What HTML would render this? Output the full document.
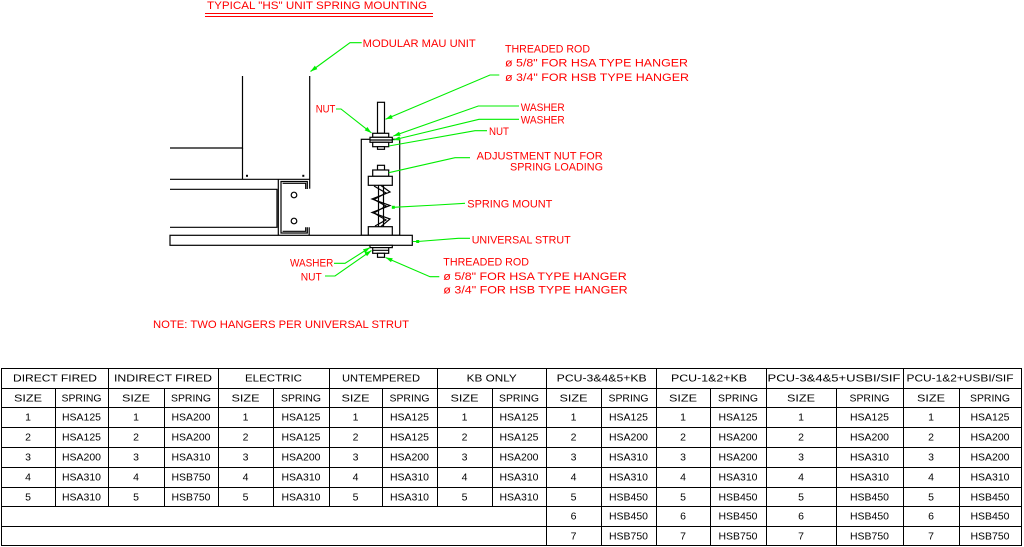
<!DOCTYPE html>
<html><head><meta charset="utf-8"><style>
html,body{margin:0;padding:0;background:#fff;}
svg{display:block;}
.r{fill:#ff0000;font-family:"Liberation Sans",sans-serif;font-size:11px;}
.t{fill:#000;font-family:"Liberation Sans",sans-serif;font-size:10.5px;text-anchor:middle;}
.k{stroke:#000;stroke-width:1.2;fill:#fff;}
.kn{stroke:#000;stroke-width:1.2;fill:none;}
.g{stroke:#00ee00;stroke-width:1.1;fill:none;}
.tl{stroke:#000;stroke-width:1;}
</style></head><body>
<svg width="1024" height="547" viewBox="0 0 1024 547" xmlns="http://www.w3.org/2000/svg">
<defs>
<marker id="ar" markerWidth="8" markerHeight="6" refX="7" refY="3" orient="auto" markerUnits="userSpaceOnUse">
<path d="M0,0.8 L7,3 L0,5.2 z" fill="#00ee00"/></marker>
<marker id="ars" markerWidth="8" markerHeight="6" refX="7" refY="3" orient="auto-start-reverse" markerUnits="userSpaceOnUse">
<path d="M0,0.8 L7,3 L0,5.2 z" fill="#00ee00"/></marker>
</defs>

<!-- title -->
<text class="r" x="207" y="9" font-size="10" textLength="220" lengthAdjust="spacingAndGlyphs">TYPICAL "HS" UNIT SPRING MOUNTING</text>
<line x1="205" y1="13.5" x2="433" y2="13.5" stroke="#ff0000" stroke-width="1"/>
<line x1="205" y1="16.5" x2="433" y2="16.5" stroke="#ff0000" stroke-width="1"/>

<!-- left structure -->
<polyline class="kn" points="170,148 242.5,148 242.5,76"/>
<line class="kn" x1="242.5" y1="148" x2="242.5" y2="179.3"/>
<line class="kn" x1="309.7" y1="76" x2="309.7" y2="188.7"/>
<line class="kn" x1="170" y1="179.3" x2="309.7" y2="179.3"/>
<rect x="246" y="174.8" width="2" height="2" fill="#000"/>
<rect x="302.3" y="174.8" width="2" height="2" fill="#000"/>
<polyline class="kn" points="170,189.3 277,189.3 277,227.3 170,227.3"/>
<polyline class="kn" points="278.3,179.3 278.3,235.5"/>
<polyline class="kn" points="307.3,189 307.3,181.5 281,181.5 281,233 307.3,233 307.3,227.3"/>
<polyline class="kn" points="305.7,189 305.7,183.3 282.6,183.3"/>
<polyline class="kn" points="282.6,231.3 305.7,231.3 305.7,227.3"/>
<line class="kn" x1="309.2" y1="227.3" x2="309.2" y2="235.5"/>
<circle cx="294" cy="195" r="2.8" class="kn" stroke-width="1"/>
<circle cx="294" cy="221" r="2.8" class="kn" stroke-width="1"/>

<!-- housing -->
<rect class="k" x="361.3" y="139.3" width="38.4" height="96"/>
<!-- top rod -->
<rect class="k" x="377.5" y="102.3" width="7" height="31"/>
<rect class="k" x="372.7" y="133.3" width="16" height="4"/>
<rect class="k" x="370" y="137.3" width="22.3" height="5"/>
<line class="kn" x1="370" y1="140" x2="392.3" y2="140" stroke-width="0.9"/>
<rect class="k" x="372.7" y="142.3" width="16" height="4.4"/>
<rect class="k" x="377.5" y="146.7" width="7" height="2.6"/>
<!-- adjustment nut -->
<rect class="k" x="377.5" y="165.3" width="7" height="4.7"/>
<rect class="k" x="372.7" y="170" width="16" height="6.3"/>
<rect class="k" x="368.3" y="176.3" width="24" height="9"/>
<!-- spring -->
<line class="kn" x1="378.5" y1="185.3" x2="378.5" y2="226.7" stroke-width="0.7"/>
<line class="kn" x1="383.5" y1="185.3" x2="383.5" y2="226.7" stroke-width="0.7"/>
<polyline class="kn" stroke-width="0.8" points="381,185.5 390,192 372,199 390,205.5 372,212.5 390,219 381,226.5"/>
<polyline class="kn" stroke-width="0.8" points="374,186 386,193 374,199.5 386,206 374,213 386,220 375,226"/>
<rect class="k" x="368.3" y="226.7" width="24" height="8.6"/>
<!-- strut -->
<rect class="k" x="170" y="235.3" width="242.3" height="10"/>
<!-- below strut -->
<rect class="k" x="370" y="245.3" width="22.3" height="2.3"/>
<rect class="k" x="372.7" y="247.6" width="16" height="5.7"/>
<line class="kn" x1="372.7" y1="250.3" x2="388.7" y2="250.3" stroke-width="0.8"/>
<rect class="k" x="377.5" y="253.3" width="7" height="4"/>

<!-- leaders -->
<polyline class="g" points="361.7,42.7 350,42.7 310.5,71.5" marker-end="url(#ar)"/>
<polyline class="g" points="336,109 341,109 371.5,133" marker-end="url(#ar)"/>
<polyline class="g" points="499.3,75 490,75 385.5,119.3" marker-end="url(#ar)"/>
<polyline class="g" points="519,106 478.3,106 393.3,136" marker-end="url(#ar)"/>
<polyline class="g" points="519,119.3 479,119.3 393.3,140" marker-end="url(#ar)"/>
<polyline class="g" points="487,130.7 475,130.7 388.8,146"/>
<polyline class="g" points="470,157.7 455,157.7 388.8,172.7"/>
<polyline class="g" points="465,203.3 436.7,205 393.3,207.3"/>
<rect x="391.8" y="205.8" width="3" height="3" fill="#00ee00"/>
<polyline class="g" points="470,238.3 458.3,238.3 417.7,241.5 412.7,241.5"/>
<rect x="416.2" y="240" width="3" height="3" fill="#00ee00"/>
<polyline class="g" points="334,263.3 345,263.3 370,247.5" marker-end="url(#ar)"/>
<polyline class="g" points="325,276 335,276 371.5,250.5" marker-end="url(#ar)"/>
<polyline class="g" points="385.5,257.5 430,276.7 439.3,276.7" marker-start="url(#ars)"/>

<!-- labels -->
<text class="r" x="362.7" y="47" textLength="113" lengthAdjust="spacingAndGlyphs">MODULAR MAU UNIT</text>
<text class="r" x="505" y="52.3" textLength="85" lengthAdjust="spacingAndGlyphs">THREADED ROD</text>
<text class="r" x="505" y="66.7" textLength="183" lengthAdjust="spacingAndGlyphs">ø 5/8" FOR HSA TYPE HANGER</text>
<text class="r" x="505" y="81" textLength="184" lengthAdjust="spacingAndGlyphs">ø 3/4" FOR HSB TYPE HANGER</text>
<text class="r" x="315.7" y="112.7" textLength="19.6" lengthAdjust="spacingAndGlyphs">NUT</text>
<text class="r" x="520.7" y="111" textLength="44" lengthAdjust="spacingAndGlyphs">WASHER</text>
<text class="r" x="520.7" y="123.3" textLength="44" lengthAdjust="spacingAndGlyphs">WASHER</text>
<text class="r" x="489" y="135" textLength="20" lengthAdjust="spacingAndGlyphs">NUT</text>
<text class="r" x="476.7" y="159.3" textLength="126" lengthAdjust="spacingAndGlyphs">ADJUSTMENT NUT FOR</text>
<text class="r" x="510" y="170.7" textLength="93" lengthAdjust="spacingAndGlyphs">SPRING LOADING</text>
<text class="r" x="467.3" y="207.3" textLength="85" lengthAdjust="spacingAndGlyphs">SPRING MOUNT</text>
<text class="r" x="471.7" y="243.3" textLength="99" lengthAdjust="spacingAndGlyphs">UNIVERSAL STRUT</text>
<text class="r" x="290" y="266.7" textLength="43.3" lengthAdjust="spacingAndGlyphs">WASHER</text>
<text class="r" x="300.7" y="280.7" textLength="21" lengthAdjust="spacingAndGlyphs">NUT</text>
<text class="r" x="443.3" y="265.7" textLength="85.7" lengthAdjust="spacingAndGlyphs">THREADED ROD</text>
<text class="r" x="443.3" y="280" textLength="183.4" lengthAdjust="spacingAndGlyphs">ø 5/8" FOR HSA TYPE HANGER</text>
<text class="r" x="443.3" y="293.3" textLength="184.4" lengthAdjust="spacingAndGlyphs">ø 3/4" FOR HSB TYPE HANGER</text>
<text class="r" x="153" y="328" textLength="256" lengthAdjust="spacingAndGlyphs">NOTE: TWO HANGERS PER UNIVERSAL STRUT</text>

<!-- table lines -->
<g class="tl" shape-rendering="crispEdges">
<line x1="1" y1="368.5" x2="1022" y2="368.5"/>
<line x1="1" y1="388.5" x2="1022" y2="388.5"/>
<line x1="1" y1="407.5" x2="1022" y2="407.5"/>
<line x1="1" y1="427.5" x2="1022" y2="427.5"/>
<line x1="1" y1="447.5" x2="1022" y2="447.5"/>
<line x1="1" y1="467.5" x2="1022" y2="467.5"/>
<line x1="1" y1="487.5" x2="1022" y2="487.5"/>
<line x1="1" y1="506.5" x2="1022" y2="506.5"/>
<line x1="1" y1="526.5" x2="1022" y2="526.5"/>
<line x1="1" y1="545.5" x2="1022" y2="545.5"/>
<line x1="1.5" y1="368" x2="1.5" y2="546"/>
<line x1="1021.5" y1="368" x2="1021.5" y2="546"/>
<line x1="108.5" y1="368" x2="108.5" y2="507"/>
<line x1="218.5" y1="368" x2="218.5" y2="507"/>
<line x1="329.5" y1="368" x2="329.5" y2="507"/>
<line x1="437.5" y1="368" x2="437.5" y2="507"/>
<line x1="546.5" y1="368" x2="546.5" y2="546"/>
<line x1="656.5" y1="368" x2="656.5" y2="546"/>
<line x1="766.5" y1="368" x2="766.5" y2="546"/>
<line x1="903.5" y1="368" x2="903.5" y2="546"/>
<line x1="55.5" y1="388" x2="55.5" y2="507"/>
<line x1="164.5" y1="388" x2="164.5" y2="507"/>
<line x1="273.5" y1="388" x2="273.5" y2="507"/>
<line x1="382.5" y1="388" x2="382.5" y2="507"/>
<line x1="492.5" y1="388" x2="492.5" y2="507"/>
<line x1="601.5" y1="388" x2="601.5" y2="546"/>
<line x1="710.5" y1="388" x2="710.5" y2="546"/>
<line x1="836.5" y1="388" x2="836.5" y2="546"/>
<line x1="959.5" y1="388" x2="959.5" y2="546"/>
</g>

<!-- table text -->
<g class="t">
<text x="55" y="381.5" textLength="84" lengthAdjust="spacingAndGlyphs">DIRECT FIRED</text>
<text x="163" y="381.5" textLength="98" lengthAdjust="spacingAndGlyphs">INDIRECT FIRED</text>
<text x="273.5" y="381.5" textLength="57" lengthAdjust="spacingAndGlyphs">ELECTRIC</text>
<text x="381" y="381.5" textLength="78" lengthAdjust="spacingAndGlyphs">UNTEMPERED</text>
<text x="491.7" y="381.5" textLength="50" lengthAdjust="spacingAndGlyphs">KB ONLY</text>
<text x="601.7" y="381.5" textLength="90" lengthAdjust="spacingAndGlyphs">PCU-3&amp;4&amp;5+KB</text>
<text x="709" y="381.5" textLength="76" lengthAdjust="spacingAndGlyphs">PCU-1&amp;2+KB</text>
<text x="834" y="381.5" textLength="133" lengthAdjust="spacingAndGlyphs">PCU-3&amp;4&amp;5+USBI/SIF</text>
<text x="960" y="381.5" textLength="107" lengthAdjust="spacingAndGlyphs">PCU-1&amp;2+USBI/SIF</text>

<text x="28" y="401.5" textLength="28" lengthAdjust="spacingAndGlyphs">SIZE</text><text x="81.5" y="401.5" textLength="40" lengthAdjust="spacingAndGlyphs">SPRING</text>
<text x="136" y="401.5" textLength="28" lengthAdjust="spacingAndGlyphs">SIZE</text><text x="191" y="401.5" textLength="40" lengthAdjust="spacingAndGlyphs">SPRING</text>
<text x="245.5" y="401.5" textLength="28" lengthAdjust="spacingAndGlyphs">SIZE</text><text x="301" y="401.5" textLength="40" lengthAdjust="spacingAndGlyphs">SPRING</text>
<text x="355.5" y="401.5" textLength="28" lengthAdjust="spacingAndGlyphs">SIZE</text><text x="409.5" y="401.5" textLength="40" lengthAdjust="spacingAndGlyphs">SPRING</text>
<text x="464.5" y="401.5" textLength="28" lengthAdjust="spacingAndGlyphs">SIZE</text><text x="519" y="401.5" textLength="40" lengthAdjust="spacingAndGlyphs">SPRING</text>
<text x="573.5" y="401.5" textLength="28" lengthAdjust="spacingAndGlyphs">SIZE</text><text x="628.5" y="401.5" textLength="40" lengthAdjust="spacingAndGlyphs">SPRING</text>
<text x="683" y="401.5" textLength="28" lengthAdjust="spacingAndGlyphs">SIZE</text><text x="738" y="401.5" textLength="40" lengthAdjust="spacingAndGlyphs">SPRING</text>
<text x="801" y="401.5" textLength="28" lengthAdjust="spacingAndGlyphs">SIZE</text><text x="869.5" y="401.5" textLength="40" lengthAdjust="spacingAndGlyphs">SPRING</text>
<text x="931" y="401.5" textLength="28" lengthAdjust="spacingAndGlyphs">SIZE</text><text x="990" y="401.5" textLength="40" lengthAdjust="spacingAndGlyphs">SPRING</text>

<!-- group 0 -->
<text x="28" y="420.5">1</text><text x="81.5" y="420.5" textLength="39" lengthAdjust="spacingAndGlyphs">HSA125</text>
<text x="28" y="440.5">2</text><text x="81.5" y="440.5" textLength="39" lengthAdjust="spacingAndGlyphs">HSA125</text>
<text x="28" y="460.5">3</text><text x="81.5" y="460.5" textLength="39" lengthAdjust="spacingAndGlyphs">HSA200</text>
<text x="28" y="480.5">4</text><text x="81.5" y="480.5" textLength="39" lengthAdjust="spacingAndGlyphs">HSA310</text>
<text x="28" y="500.5">5</text><text x="81.5" y="500.5" textLength="39" lengthAdjust="spacingAndGlyphs">HSA310</text>
<!-- group 1 -->
<text x="136" y="420.5">1</text><text x="191" y="420.5" textLength="39" lengthAdjust="spacingAndGlyphs">HSA200</text>
<text x="136" y="440.5">2</text><text x="191" y="440.5" textLength="39" lengthAdjust="spacingAndGlyphs">HSA200</text>
<text x="136" y="460.5">3</text><text x="191" y="460.5" textLength="39" lengthAdjust="spacingAndGlyphs">HSA310</text>
<text x="136" y="480.5">4</text><text x="191" y="480.5" textLength="39" lengthAdjust="spacingAndGlyphs">HSB750</text>
<text x="136" y="500.5">5</text><text x="191" y="500.5" textLength="39" lengthAdjust="spacingAndGlyphs">HSB750</text>
<!-- group 2 -->
<text x="245.5" y="420.5">1</text><text x="301" y="420.5" textLength="39" lengthAdjust="spacingAndGlyphs">HSA125</text>
<text x="245.5" y="440.5">2</text><text x="301" y="440.5" textLength="39" lengthAdjust="spacingAndGlyphs">HSA125</text>
<text x="245.5" y="460.5">3</text><text x="301" y="460.5" textLength="39" lengthAdjust="spacingAndGlyphs">HSA200</text>
<text x="245.5" y="480.5">4</text><text x="301" y="480.5" textLength="39" lengthAdjust="spacingAndGlyphs">HSA310</text>
<text x="245.5" y="500.5">5</text><text x="301" y="500.5" textLength="39" lengthAdjust="spacingAndGlyphs">HSA310</text>
<!-- group 3 -->
<text x="355.5" y="420.5">1</text><text x="409.5" y="420.5" textLength="39" lengthAdjust="spacingAndGlyphs">HSA125</text>
<text x="355.5" y="440.5">2</text><text x="409.5" y="440.5" textLength="39" lengthAdjust="spacingAndGlyphs">HSA125</text>
<text x="355.5" y="460.5">3</text><text x="409.5" y="460.5" textLength="39" lengthAdjust="spacingAndGlyphs">HSA200</text>
<text x="355.5" y="480.5">4</text><text x="409.5" y="480.5" textLength="39" lengthAdjust="spacingAndGlyphs">HSA310</text>
<text x="355.5" y="500.5">5</text><text x="409.5" y="500.5" textLength="39" lengthAdjust="spacingAndGlyphs">HSA310</text>
<!-- group 4 -->
<text x="464.5" y="420.5">1</text><text x="519" y="420.5" textLength="39" lengthAdjust="spacingAndGlyphs">HSA125</text>
<text x="464.5" y="440.5">2</text><text x="519" y="440.5" textLength="39" lengthAdjust="spacingAndGlyphs">HSA125</text>
<text x="464.5" y="460.5">3</text><text x="519" y="460.5" textLength="39" lengthAdjust="spacingAndGlyphs">HSA200</text>
<text x="464.5" y="480.5">4</text><text x="519" y="480.5" textLength="39" lengthAdjust="spacingAndGlyphs">HSA310</text>
<text x="464.5" y="500.5">5</text><text x="519" y="500.5" textLength="39" lengthAdjust="spacingAndGlyphs">HSA310</text>
<!-- group 5 -->
<text x="573.5" y="420.5">1</text><text x="628.5" y="420.5" textLength="39" lengthAdjust="spacingAndGlyphs">HSA125</text>
<text x="573.5" y="440.5">2</text><text x="628.5" y="440.5" textLength="39" lengthAdjust="spacingAndGlyphs">HSA200</text>
<text x="573.5" y="460.5">3</text><text x="628.5" y="460.5" textLength="39" lengthAdjust="spacingAndGlyphs">HSA310</text>
<text x="573.5" y="480.5">4</text><text x="628.5" y="480.5" textLength="39" lengthAdjust="spacingAndGlyphs">HSA310</text>
<text x="573.5" y="500.5">5</text><text x="628.5" y="500.5" textLength="39" lengthAdjust="spacingAndGlyphs">HSB450</text>
<text x="573.5" y="519.5">6</text><text x="628.5" y="519.5" textLength="39" lengthAdjust="spacingAndGlyphs">HSB450</text>
<text x="573.5" y="539.5">7</text><text x="628.5" y="539.5" textLength="39" lengthAdjust="spacingAndGlyphs">HSB750</text>
<!-- group 6 -->
<text x="683" y="420.5">1</text><text x="738" y="420.5" textLength="39" lengthAdjust="spacingAndGlyphs">HSA125</text>
<text x="683" y="440.5">2</text><text x="738" y="440.5" textLength="39" lengthAdjust="spacingAndGlyphs">HSA200</text>
<text x="683" y="460.5">3</text><text x="738" y="460.5" textLength="39" lengthAdjust="spacingAndGlyphs">HSA200</text>
<text x="683" y="480.5">4</text><text x="738" y="480.5" textLength="39" lengthAdjust="spacingAndGlyphs">HSA310</text>
<text x="683" y="500.5">5</text><text x="738" y="500.5" textLength="39" lengthAdjust="spacingAndGlyphs">HSB450</text>
<text x="683" y="519.5">6</text><text x="738" y="519.5" textLength="39" lengthAdjust="spacingAndGlyphs">HSB450</text>
<text x="683" y="539.5">7</text><text x="738" y="539.5" textLength="39" lengthAdjust="spacingAndGlyphs">HSB750</text>
<!-- group 7 -->
<text x="801" y="420.5">1</text><text x="869.5" y="420.5" textLength="39" lengthAdjust="spacingAndGlyphs">HSA125</text>
<text x="801" y="440.5">2</text><text x="869.5" y="440.5" textLength="39" lengthAdjust="spacingAndGlyphs">HSA200</text>
<text x="801" y="460.5">3</text><text x="869.5" y="460.5" textLength="39" lengthAdjust="spacingAndGlyphs">HSA310</text>
<text x="801" y="480.5">4</text><text x="869.5" y="480.5" textLength="39" lengthAdjust="spacingAndGlyphs">HSA310</text>
<text x="801" y="500.5">5</text><text x="869.5" y="500.5" textLength="39" lengthAdjust="spacingAndGlyphs">HSB450</text>
<text x="801" y="519.5">6</text><text x="869.5" y="519.5" textLength="39" lengthAdjust="spacingAndGlyphs">HSB450</text>
<text x="801" y="539.5">7</text><text x="869.5" y="539.5" textLength="39" lengthAdjust="spacingAndGlyphs">HSB750</text>
<!-- group 8 -->
<text x="931" y="420.5">1</text><text x="990" y="420.5" textLength="39" lengthAdjust="spacingAndGlyphs">HSA125</text>
<text x="931" y="440.5">2</text><text x="990" y="440.5" textLength="39" lengthAdjust="spacingAndGlyphs">HSA200</text>
<text x="931" y="460.5">3</text><text x="990" y="460.5" textLength="39" lengthAdjust="spacingAndGlyphs">HSA200</text>
<text x="931" y="480.5">4</text><text x="990" y="480.5" textLength="39" lengthAdjust="spacingAndGlyphs">HSA310</text>
<text x="931" y="500.5">5</text><text x="990" y="500.5" textLength="39" lengthAdjust="spacingAndGlyphs">HSB450</text>
<text x="931" y="519.5">6</text><text x="990" y="519.5" textLength="39" lengthAdjust="spacingAndGlyphs">HSB450</text>
<text x="931" y="539.5">7</text><text x="990" y="539.5" textLength="39" lengthAdjust="spacingAndGlyphs">HSB750</text>
</g>
</svg>
</body></html>
